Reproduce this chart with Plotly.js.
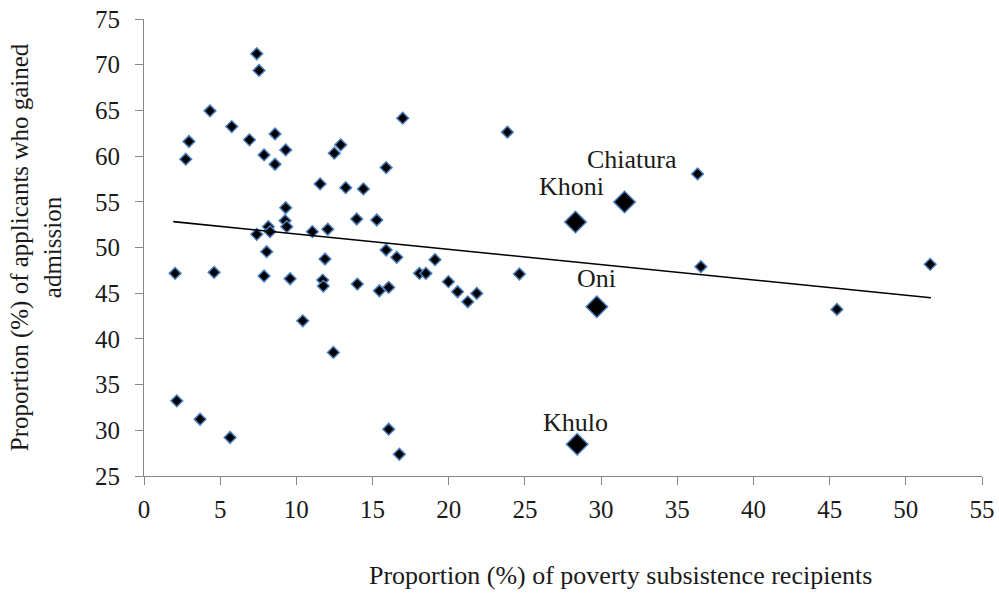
<!DOCTYPE html>
<html>
<head>
<meta charset="utf-8">
<script src="https://cdn.plot.ly/plotly-3.0.1.min.js"></script>
<style>
html,body{margin:0;padding:0;background:#fff;}
#chart{width:999px;height:594px;}
</style>
</head>
<body>
<div id="chart"></div>
<script>
// Small markers: proportion of poverty subsistence recipients (x) vs admission (y)
const povertyPct = [7.40, 7.55, 4.33, 2.95, 2.74, 5.76, 6.92, 8.60, 7.88, 9.30, 8.60, 16.98, 12.91, 12.49, 15.89, 11.56, 13.24, 14.40, 9.30, 13.96, 15.28, 9.26, 9.37, 8.16, 8.27, 7.40, 11.05, 12.06, 8.05, 15.89, 16.59, 11.88, 19.10, 2.04, 4.60, 7.88, 9.59, 11.73, 11.77, 14.00, 15.45, 16.06, 18.08, 18.50, 10.42, 12.43, 2.15, 3.68, 5.65, 16.06, 16.76, 23.85, 19.98, 20.58, 21.25, 21.84, 24.64, 36.33, 36.55, 51.60, 45.48];
const admissionPct = [71.20, 69.37, 64.95, 61.60, 59.66, 63.23, 61.78, 62.43, 60.13, 60.68, 59.11, 64.15, 61.23, 60.32, 58.74, 56.96, 56.55, 56.41, 54.35, 53.12, 53.01, 52.94, 52.28, 52.28, 51.73, 51.44, 51.73, 52.00, 49.54, 49.73, 48.93, 48.74, 48.67, 47.17, 47.28, 46.88, 46.58, 46.44, 45.78, 46.00, 45.27, 45.64, 47.17, 47.17, 41.98, 38.52, 33.22, 31.21, 29.21, 30.12, 27.38, 62.62, 46.26, 45.16, 44.06, 44.98, 47.10, 58.05, 47.90, 48.16, 43.23];

// Highlighted municipalities
const namedTowns = ["Khoni", "Chiatura", "Oni", "Khulo"];
const namedPoverty = [28.32, 31.54, 29.72, 28.43];
const namedAdmission = [52.79, 54.98, 43.52, 28.47];
// label positions (data units)
const labelX = [28.04, 32.04, 29.68, 28.33];
const labelY = [56.63, 59.58, 46.57, 30.88];

// Linear trend line endpoints
const trendX = [1.92, 51.65];
const trendY = [52.83, 44.50];

// Axis ticks
const xTicks = [0, 5, 10, 15, 20, 25, 30, 35, 40, 45, 50, 55];
const yTicks = [25, 30, 35, 40, 45, 50, 55, 60, 65, 70, 75];

const FONT = "Liberation Serif, Times New Roman, serif";
const axisColor = "#868686";
const textColor = "#1a1a1a";

const traces = [
  {
    x: povertyPct, y: admissionPct, type: "scatter", mode: "markers",
    marker: {symbol: "diamond", size: 9, color: "#000000", line: {color: "#4a7ebb", width: 1.5}},
    hoverinfo: "x+y", showlegend: false
  },
  {
    x: trendX, y: trendY, type: "scatter", mode: "lines",
    line: {color: "#000000", width: 1.6}, hoverinfo: "skip", showlegend: false
  },
  {
    x: namedPoverty, y: namedAdmission, text: namedTowns, type: "scatter", mode: "markers",
    marker: {symbol: "diamond", size: 16.5, color: "#000000", line: {color: "#4a7ebb", width: 1.5}},
    hoverinfo: "text+x+y", showlegend: false
  }
];

const plotW = 999 - 144 - 17, plotH = 594 - 19 - 118;

const annotations = namedTowns.map((t, i) => ({
  x: labelX[i], y: labelY[i], xref: "x", yref: "y", text: t, showarrow: false,
  xanchor: "center", yanchor: "middle", font: {family: FONT, size: 26, color: textColor}
}));
annotations.push({
  x: (620 - 144) / plotW, y: -(575 - (594 - 118)) / plotH, xref: "paper", yref: "paper",
  text: "Proportion (%) of poverty subsistence recipients",
  showarrow: false, xanchor: "center", yanchor: "middle",
  font: {family: FONT, size: 26, color: textColor}
});

const layout = {
  width: 999, height: 594,
  margin: {l: 144, r: 17, t: 19, b: 118, pad: 0},
  paper_bgcolor: "#ffffff", plot_bgcolor: "#ffffff",
  font: {family: FONT, size: 25, color: textColor},
  showlegend: false,
  xaxis: {
    range: [0, 55], tickmode: "array", tickvals: xTicks, ticktext: xTicks.map(String),
    showgrid: false, zeroline: false, showline: true, linecolor: axisColor, linewidth: 1,
    ticks: "outside", ticklen: 8, tickcolor: axisColor, tickwidth: 1,
    tickfont: {family: FONT, size: 25, color: textColor}, ticklabelstandoff: 3,
    fixedrange: true
  },
  yaxis: {
    range: [25, 75], tickmode: "array", tickvals: yTicks, ticktext: yTicks.map(String),
    showgrid: false, zeroline: false, showline: true, linecolor: axisColor, linewidth: 1,
    ticks: "outside", ticklen: 8, tickcolor: axisColor, tickwidth: 1,
    tickfont: {family: FONT, size: 25, color: textColor}, ticklabelstandoff: 10,
    title: {text: "Proportion (%) of applicants who gained<br>admission", standoff: 26,
            font: {family: FONT, size: 25, color: textColor}},
    fixedrange: true
  },
  annotations: annotations
};

Plotly.newPlot("chart", traces, layout, {displayModeBar: false, staticPlot: true});
</script>
</body>
</html>
